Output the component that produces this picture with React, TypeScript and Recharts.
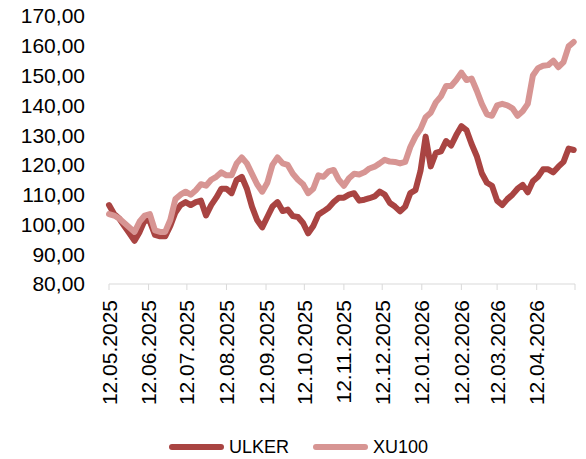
import React from 'react';
import { LineChart, Line, XAxis, YAxis, Legend } from 'recharts';

const dates = [
  '12.05.2025', '16.05.2025', '20.05.2025', '24.05.2025', '28.05.2025', '01.06.2025', '05.06.2025', '09.06.2025',
  '13.06.2025', '17.06.2025', '21.06.2025', '25.06.2025', '29.06.2025', '03.07.2025', '07.07.2025', '11.07.2025',
  '15.07.2025', '19.07.2025', '23.07.2025', '27.07.2025', '31.07.2025', '04.08.2025', '08.08.2025', '12.08.2025',
  '16.08.2025', '20.08.2025', '24.08.2025', '28.08.2025', '01.09.2025', '05.09.2025', '09.09.2025', '13.09.2025',
  '17.09.2025', '21.09.2025', '25.09.2025', '29.09.2025', '03.10.2025', '07.10.2025', '11.10.2025', '15.10.2025',
  '19.10.2025', '23.10.2025', '27.10.2025', '31.10.2025', '04.11.2025', '08.11.2025', '12.11.2025', '16.11.2025',
  '20.11.2025', '24.11.2025', '28.11.2025', '02.12.2025', '06.12.2025', '10.12.2025', '14.12.2025', '18.12.2025',
  '22.12.2025', '26.12.2025', '30.12.2025', '03.01.2026', '07.01.2026', '11.01.2026', '15.01.2026', '19.01.2026',
  '23.01.2026', '27.01.2026', '31.01.2026', '04.02.2026', '08.02.2026', '12.02.2026', '16.02.2026', '20.02.2026',
  '24.02.2026', '28.02.2026', '04.03.2026', '08.03.2026', '12.03.2026', '16.03.2026', '20.03.2026', '24.03.2026',
  '28.03.2026', '01.04.2026', '05.04.2026', '09.04.2026', '13.04.2026', '17.04.2026', '21.04.2026', '25.04.2026',
  '29.04.2026', '03.05.2026', '07.05.2026', '11.05.2026',
];

const ulker = [
  106.5, 103.5, 102, 99.5, 97, 94.5, 97.5, 101.5, 101, 96.5,
  96, 96, 99.5, 104, 106.5, 107.5, 106.5, 107.5, 108, 103,
  106.5, 109, 112, 112, 110.5, 115, 116, 112, 106, 101.5,
  99, 102.5, 106, 107.5, 104.5, 105, 102.8, 102.5, 100.5, 97,
  99.5, 103.3, 104.4, 105.6, 107.5, 109, 109, 110, 110.5, 108,
  108.3, 108.8, 109.4, 111, 110, 107.2, 106, 104.4, 106, 110.5,
  111.5, 118, 129.5, 119.5, 124, 124.5, 128, 126.5, 130, 133,
  131.7, 127, 123, 117.2, 114, 113, 108, 106.5, 108.5, 110,
  112, 113.3, 110.8, 114.5, 116, 118.5, 118.5, 117.5, 119.4, 121,
  125.5, 125,
];

const xu100 = [
  103.5, 103, 102, 100.5, 99, 97.5, 101, 103, 103.5, 98,
  97.5, 97.5, 101.5, 108.5, 110, 111, 110, 111.5, 113.5, 113,
  115, 116, 117.5, 116.5, 116.5, 120.5, 122.5, 120.5, 117, 113.5,
  111, 114, 120, 122.5, 120.5, 120, 117, 115, 113.5, 110.5,
  112, 116.5, 116, 117.8, 118.3, 115, 113, 115.5, 117, 116.8,
  117.5, 118.8, 119.4, 120.5, 121.7, 121.1, 121, 120.5, 121, 126,
  129.5, 132, 136, 137.5, 141, 143, 146.5, 146.5, 148.5, 151,
  148.5, 149, 145, 140.5, 137, 136.5, 140, 140.5, 140, 139,
  136.5, 138, 140.5, 150, 152.5, 153.3, 153.5, 155, 152.8, 154.5,
  159.8, 161.3,
];

const monthTicks = [
  '12.05.2025', '12.06.2025', '12.07.2025', '12.08.2025', '12.09.2025', '12.10.2025', '12.11.2025',
  '12.12.2025', '12.01.2026', '12.02.2026', '12.03.2026', '12.04.2026', '12.05.2026',
];

const yTicks = [80, 90, 100, 110, 120, 130, 140, 150, 160, 170];

const toTime = (s: string) => {
  const [d, m, y] = s.split('.').map(Number);
  return Date.UTC(y, m - 1, d);
};

const data = dates.map((d, i) => ({ t: toTime(d), ULKER: ulker[i], XU100: xu100[i] }));
const tickTimes = monthTicks.map(toTime);
const lastTick = tickTimes[tickTimes.length - 1];

const FONT = '"Liberation Sans", Arial, sans-serif';
const DARK = '#A94442';
const PINK = '#D79593';

// rotated date labels, the closing 12.05.2026 tick has no label
const DateTick = (props: any) => {
  const { x, y, payload } = props;
  if (payload.value === lastTick) return null;
  const label = monthTicks[tickTimes.indexOf(payload.value)];
  return (
    <text
      transform={`translate(${x},${y + 4}) rotate(-90)`}
      textAnchor="end"
      dominantBaseline="central"
      fontSize={21}
      fontFamily={FONT}
      fill="#000"
    >
      {label}
    </text>
  );
};

const renderLegend = () => (
  <div
    style={{
      height: 24,
      display: 'flex',
      justifyContent: 'center',
      alignItems: 'center',
      fontFamily: FONT,
      fontSize: 18,
      color: '#000',
      paddingLeft: 46,
    }}
  >
    {[
      { name: 'ULKER', color: DARK },
      { name: 'XU100', color: PINK },
    ].map((s) => (
      <div key={s.name} style={{ display: 'flex', alignItems: 'center', marginRight: 24 }}>
        <div style={{ width: 55, height: 6, borderRadius: 3, background: s.color, marginRight: 5 }} />
        <span>{s.name}</span>
      </div>
    ))}
  </div>
);

export default function App() {
  return (
    <div style={{ width: 586, height: 459 }}>
      <style>{`body{margin:0}`}</style>
      <LineChart width={586} height={459} data={data} margin={{ top: 16, right: 11, left: 0, bottom: 0 }}>
        <XAxis
          dataKey="t"
          type="number"
          scale="time"
          domain={[tickTimes[0], lastTick]}
          ticks={tickTimes}
          interval={0}
          height={151}
          tick={<DateTick />}
          tickSize={6}
          tickMargin={6}
          stroke="#D9D9D9"
          axisLine={{ stroke: '#D9D9D9', strokeWidth: 1 }}
          tickLine={{ stroke: '#D9D9D9', strokeWidth: 1 }}
        />
        <YAxis
          domain={[80, 170]}
          ticks={yTicks}
          interval={0}
          width={109}
          axisLine={false}
          tickLine={false}
          tickSize={0}
          tickMargin={24}
          tick={{ fontSize: 21, fontFamily: FONT, fill: '#000' }}
          tickFormatter={(v: number) => v.toFixed(2).replace('.', ',')}
        />
        <Legend verticalAlign="bottom" height={24} content={renderLegend} />
        <Line
          type="linear"
          dataKey="ULKER"
          stroke={DARK}
          strokeWidth={6}
          dot={false}
          strokeLinejoin="round"
          strokeLinecap="round"
          isAnimationActive={false}
        />
        <Line
          type="linear"
          dataKey="XU100"
          stroke={PINK}
          strokeWidth={6}
          dot={false}
          strokeLinejoin="round"
          strokeLinecap="round"
          isAnimationActive={false}
        />
      </LineChart>
    </div>
  );
}
